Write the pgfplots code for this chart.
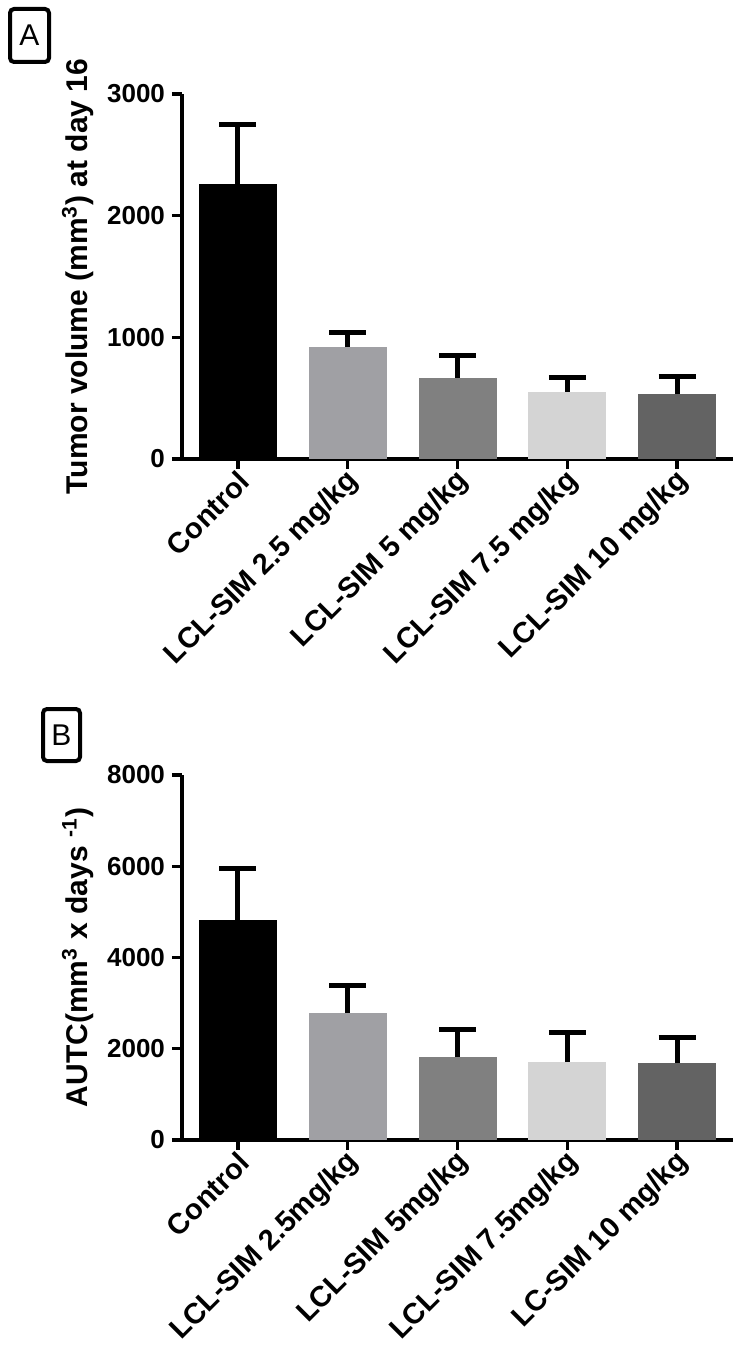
\documentclass[border=0pt]{standalone}
\usepackage{fontspec}
\setmainfont{Liberation Sans}
\usepackage{pgfplots}
\pgfplotsset{compat=1.18}
\definecolor{barB}{HTML}{A0A0A4}
\definecolor{barC}{HTML}{808080}
\definecolor{barD}{HTML}{D4D4D4}
\definecolor{barE}{HTML}{636363}
\pgfplotsset{
 prism/.style={
  scale only axis, width=275.5pt, height=182.5pt,
  axis x line=bottom, axis y line=left,
  axis line style={line width=1.6pt, -},
  xmin=-0.51, xmax=4.51, ymin=0,
  xtick={0,1,2,3,4},
  tick style={line width=1.6pt, black},
  major tick length=5pt, tick align=outside,
  yticklabel style={font=\bfseries\fontsize{13}{15}\selectfont},
  xticklabel style={font=\bfseries\fontsize{14.5}{17}\selectfont, rotate=45, anchor=east, xshift=3pt, yshift=-5pt},
  /pgf/number format/assume math mode=true,
  /pgf/number format/1000 sep={},
  scaled y ticks=false,
  ylabel style={font=\bfseries\fontsize{15}{18}\selectfont},
  clip=false,
 },
 pbar/.style={ybar, bar width=39pt, bar shift=0pt, draw=none, fill=#1,
  error bars/.cd, y dir=plus, y explicit,
  error bar style={line width=2.5pt, draw=black},
  error mark options={rotate=90, mark size=9.25pt, line width=2.5pt, draw=black}},
}
\begin{document}
\begin{tikzpicture}
\path[use as bounding box] (0,0) rectangle (370pt,-674pt);
\node[draw, line width=2pt, rounded corners=2pt, minimum width=19.5pt, minimum height=26.5pt, inner sep=0pt, font=\fontsize{15}{18}\selectfont] at (14.75pt,-17.75pt) {A};
\node[draw, line width=2pt, rounded corners=2pt, minimum width=18.5pt, minimum height=26pt, inner sep=0pt, font=\fontsize{15}{18}\selectfont] at (30.75pt,-367.5pt) {B};

\begin{axis}[prism, at={(91pt,-229.5pt)}, anchor=south west,
  ymax=3000, ytick={0,1000,2000,3000},
  xticklabels={Control, LCL-SIM 2.5 mg/kg, LCL-SIM 5 mg/kg, LCL-SIM 7.5 mg/kg, LCL-SIM 10 mg/kg},
  ylabel={Tumor volume (mm\textsuperscript{3}) at day 16}]
\addplot[pbar=black] coordinates {(0,2260) +- (0,493)};
\addplot[pbar=barB] coordinates {(1,920) +- (0,123)};
\addplot[pbar=barC] coordinates {(2,666) +- (0,181)};
\addplot[pbar=barD] coordinates {(3,551) +- (0,115)};
\addplot[pbar=barE] coordinates {(4,534) +- (0,148)};
\end{axis}

\begin{axis}[prism, at={(91pt,-570pt)}, anchor=south west,
  ymax=8000, ytick={0,2000,4000,6000,8000},
  xticklabels={Control, LCL-SIM 2.5mg/kg, LCL-SIM 5mg/kg, LCL-SIM 7.5mg/kg, LC-SIM 10 mg/kg},
  ylabel={AUTC(mm\textsuperscript{3} x days \textsuperscript{-1})}]
\addplot[pbar=black] coordinates {(0,4817) +- (0,1139)};
\addplot[pbar=barB] coordinates {(1,2780) +- (0,614)};
\addplot[pbar=barC] coordinates {(2,1817) +- (0,613)};
\addplot[pbar=barD] coordinates {(3,1708) +- (0,657)};
\addplot[pbar=barE] coordinates {(4,1686) +- (0,569)};
\end{axis}
\end{tikzpicture}
\end{document}
